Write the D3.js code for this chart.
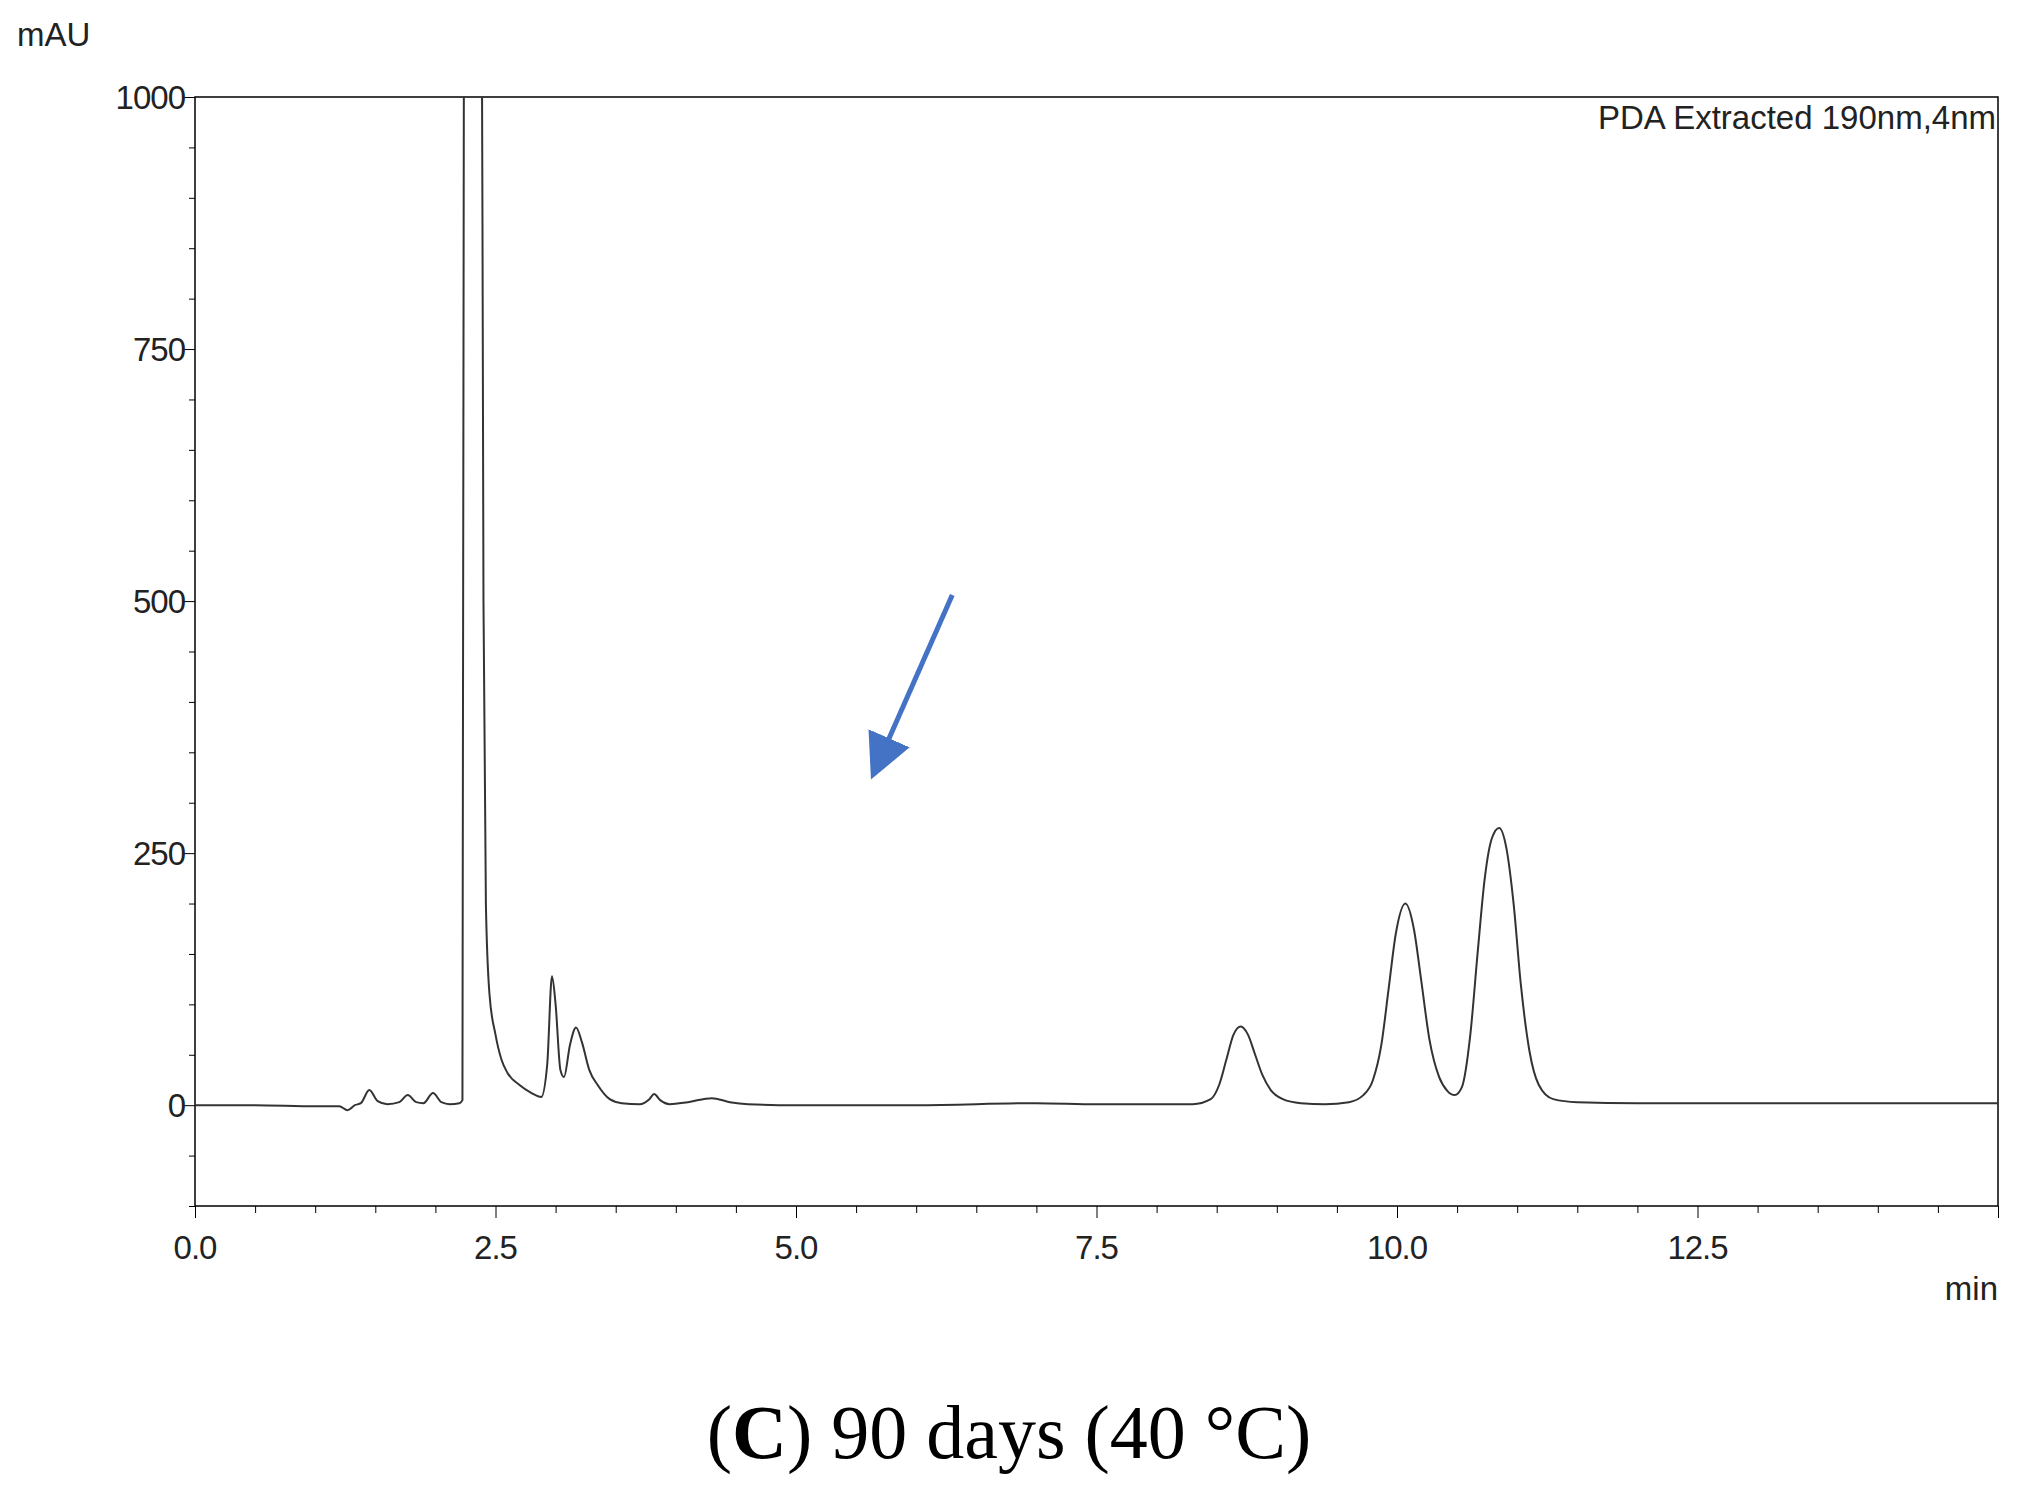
<!DOCTYPE html>
<html><head><meta charset="utf-8">
<script src="https://cdn.jsdelivr.net/npm/d3@7"></script>
<style>body{margin:0;background:#fff}</style></head>
<body><svg id="c" width="2021" height="1487"></svg>
<script>
const times = [0,0.5,1.0,1.2,1.27,1.33,1.38,1.45,1.52,1.6,1.7,1.77,1.84,1.9,1.98,2.05,2.12,2.2,2.225,2.24,2.3,2.38,2.40,2.42,2.45,2.5,2.55,2.6,2.7,2.8,2.88,2.93,2.97,3.0,3.04,3.07,3.12,3.17,3.22,3.28,3.35,3.45,3.55,3.7,3.78,3.82,3.87,3.95,4.1,4.3,4.45,4.6,5.0,6.0,7.0,7.5,8.0,8.3,8.45,8.52,8.58,8.64,8.7,8.76,8.82,8.88,8.95,9.05,9.2,9.4,9.6,9.72,9.8,9.87,9.93,9.99,10.07,10.14,10.2,10.27,10.35,10.42,10.48,10.54,10.61,10.67,10.73,10.79,10.85,10.91,10.97,11.03,11.1,11.18,11.3,11.5,12.0,13.0,14.0,15.0];
const values = [0,0,-1,-1,-5,0,2,15,4,1,3,10,3,2,12,3,1,2,5,1300,1400,1300,500,200,110,70,45,32,20,12,8,40,128,100,35,28,60,77,62,35,20,6,2,1,6,11,5,1,3,7,3,1,0,0,2,1,1,1,6,20,45,70,78,70,50,30,15,6,2,1,3,10,25,60,115,170,200,175,125,65,28,14,10,18,70,150,225,265,275,255,200,120,55,20,6,3,2,2,2,2];
const xTicks = [0,2.5,5,7.5,10,12.5];
const xTickLabels = ["0.0","2.5","5.0","7.5","10.0","12.5"];
const yTicks = [0,250,500,750,1000];
const arrowFrom = [6.30,506], arrowTo = [5.59,314];

const svg = d3.select("#c");
const L=195,R=1998,T=97,B=1206;
const x = d3.scaleLinear().domain([0,15]).range([L,R]);
const y = d3.scaleLinear().domain([-100,1000]).range([B,T]);
svg.append("defs").append("clipPath").attr("id","cp").append("rect").attr("x",L).attr("y",T).attr("width",R-L).attr("height",B-T);
const font="'Liberation Sans',Arial,sans-serif";
const fs=33;
svg.append("rect").attr("x",L).attr("y",T).attr("width",R-L).attr("height",B-T).attr("fill","none").attr("stroke","#000").attr("stroke-width",1.5);
const ya = svg.append("g").attr("transform",`translate(${L},0)`)
  .call(d3.axisLeft(y).tickValues(d3.range(-100,1001,50)).tickSize(6).tickFormat(""));
ya.selectAll(".tick line").attr("x2",d=>d%250===0?-12:-6);
ya.select(".domain").remove();
yTicks.forEach(v=>svg.append("text").attr("x",L-10).attr("y",y(v)).attr("dy","0.36em").attr("text-anchor","end").attr("font-family",font).attr("font-size",fs).attr("letter-spacing","-1").attr("fill","#222").text(v));
const xa = svg.append("g").attr("transform",`translate(0,${B})`)
  .call(d3.axisBottom(x).tickValues(d3.range(0,15.01,0.5)).tickSize(6).tickFormat(""));
xa.selectAll(".tick line").attr("y2",d=>(Math.round(d*10)%25===0)?12:7);
xa.select(".domain").remove();
xTicks.forEach((v,i)=>svg.append("text").attr("x",x(v)).attr("y",1259).attr("text-anchor","middle").attr("font-family",font).attr("font-size",fs).attr("letter-spacing","-1").attr("fill","#222").text(xTickLabels[i]));
const pts = times.map((t,i)=>[t,values[i]]);
svg.append("path").datum(pts).attr("clip-path","url(#cp)")
  .attr("d",d3.line().x(d=>x(d[0])).y(d=>y(d[1])).curve(d3.curveMonotoneX))
  .attr("fill","none").attr("stroke","#333").attr("stroke-width",2);
svg.append("text").attr("x",17).attr("y",46).attr("font-family",font).attr("font-size",fs).attr("fill","#222").text("mAU");
svg.append("text").attr("x",R-2).attr("y",129).attr("text-anchor","end").attr("font-family",font).attr("font-size",fs).attr("fill","#222").text("PDA Extracted 190nm,4nm");
svg.append("text").attr("x",R).attr("y",1300).attr("text-anchor","end").attr("font-family",font).attr("font-size",fs).attr("fill","#222").text("min");
svg.append("defs").append("marker").attr("id","ah").attr("viewBox","0 0 10 10").attr("refX",2).attr("refY",5)
  .attr("markerWidth",9).attr("markerHeight",9).attr("markerUnits","strokeWidth").attr("orient","auto")
  .append("path").attr("d","M0,0 L10,5 L0,10 Z").attr("fill","#4472C4");
const ax2 = x(arrowTo[0]), ay2 = y(arrowTo[1]);
const ax1 = x(arrowFrom[0]), ay1 = y(arrowFrom[1]);
const len = Math.hypot(ax2-ax1,ay2-ay1), back=46;
svg.append("line").attr("x1",ax1).attr("y1",ay1)
  .attr("x2",ax2-(ax2-ax1)/len*back).attr("y2",ay2-(ay2-ay1)/len*back)
  .attr("stroke","#4472C4").attr("stroke-width",5).attr("marker-end","url(#ah)");
const cap = svg.append("text").attr("x",1009).attr("y",1458).attr("text-anchor","middle").attr("font-family","'Liberation Serif','DejaVu Serif',serif").attr("font-size",76).attr("fill","#000");
cap.append("tspan").text("(");
cap.append("tspan").attr("font-weight","bold").text("C");
cap.append("tspan").text(") 90 days (40 °C)");
</script></body></html>
